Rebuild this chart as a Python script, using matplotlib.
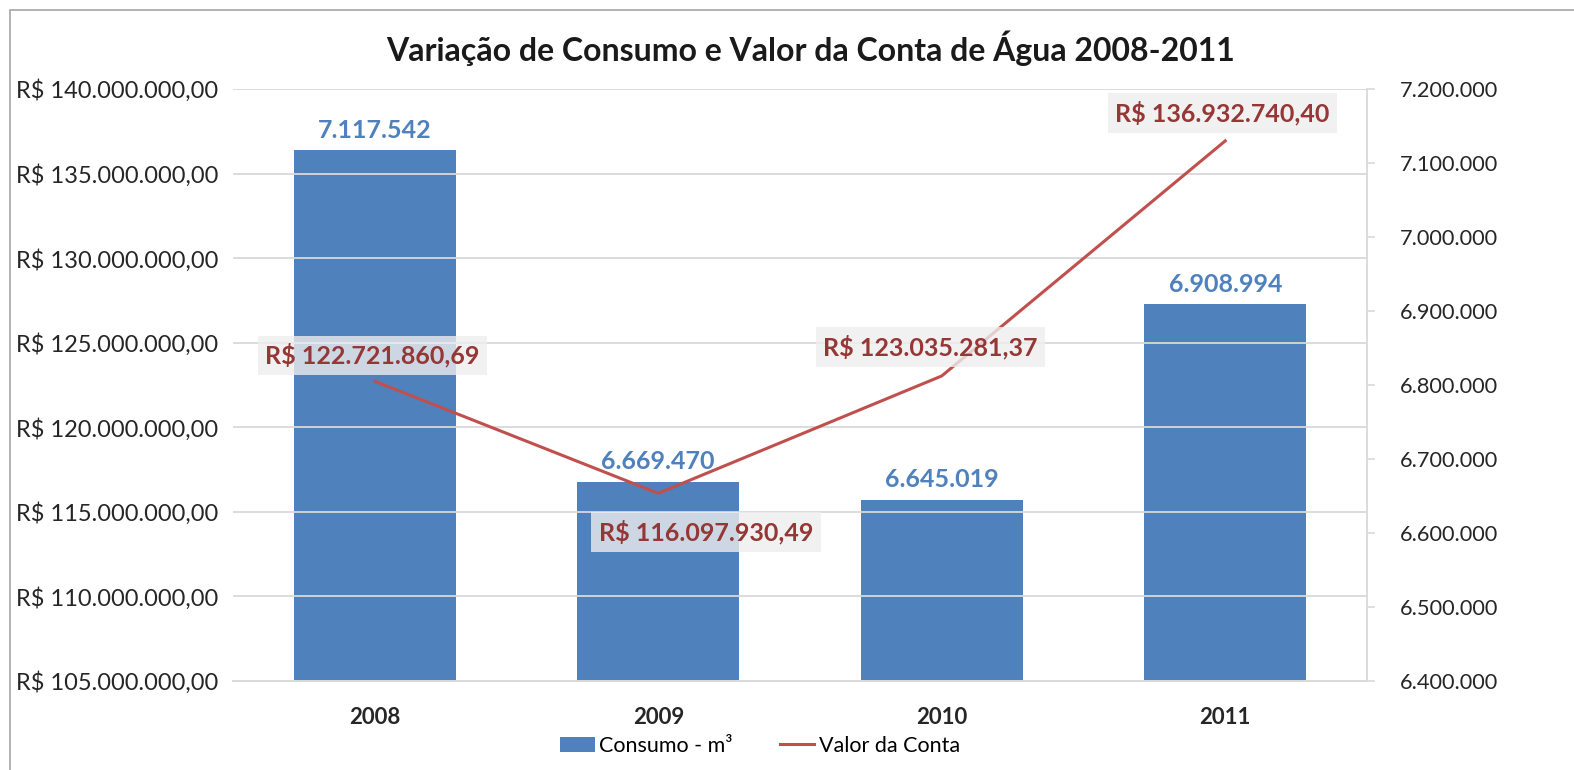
import matplotlib.pyplot as plt
from matplotlib.patches import Patch, Rectangle
from matplotlib.lines import Line2D
from matplotlib.ticker import FuncFormatter, MultipleLocator

anos = ["2008", "2009", "2010", "2011"]
consumo = [7117542, 6669470, 6645019, 6908994]
valor_conta = [122721860.69, 116097930.49, 123035281.37, 136932740.40]

BAR_COLOR = "#4f81bd"
LINE_COLOR = "#c0504d"
LABEL_RED = "#953735"
GRID = "#d9d9d9"


def br_num(v, decimals=0):
    s = f"{v:,.{decimals}f}"
    return s.replace(",", "X").replace(".", ",").replace("X", ".")


def main() -> None:
    plt.rcParams["font.family"] = ["Lato", "DejaVu Sans"]
    fig = plt.figure(figsize=(15.74, 7.70), dpi=100)
    fig.add_artist(Rectangle((10 / 1574, -0.05), 1.2, 1 - 10 / 770 + 0.05,
                             transform=fig.transFigure, fill=False,
                             edgecolor="#a6a6a6", linewidth=1.2))

    ax = fig.add_axes([233 / 1574, 1 - 681 / 770, (1367 - 233) / 1574, (681 - 89) / 770])
    ax2 = ax.twinx()
    x = list(range(len(anos)))

    # bars on the secondary (right) axis
    ax2.bar(x, consumo, width=0.57, color=BAR_COLOR, zorder=2)
    ax2.set_ylim(6400000, 7200000)
    ax2.yaxis.set_major_locator(MultipleLocator(100000))
    ax2.yaxis.set_major_formatter(FuncFormatter(lambda v, p: br_num(v)))
    for xi, c in zip(x, consumo):
        ax2.annotate(br_num(c), (xi, c), xytext=(0, 6), textcoords="offset points",
                     ha="center", va="bottom", fontsize=18, fontweight="bold",
                     color=BAR_COLOR)

    # line on the primary (left) axis, drawn above the bars
    ax.set_zorder(ax2.get_zorder() + 1)
    ax.patch.set_visible(False)
    ax.plot(x, valor_conta, color=LINE_COLOR, linewidth=2.2, zorder=3)
    ax.set_ylim(105000000, 140000000)
    ax.yaxis.set_major_locator(MultipleLocator(5000000))
    ax.yaxis.set_major_formatter(FuncFormatter(lambda v, p: "R$ " + br_num(v, 2)))
    offsets = [(-1.5, 18.5), (34.5, -28), (-8, 21), (-2, 20)]
    for xi, v, off in zip(x, valor_conta, offsets):
        ax.annotate("R$ " + br_num(v, 2), (xi, v), xytext=off, textcoords="offset points",
                    ha="center", va="center", fontsize=18, fontweight="bold",
                    color=LABEL_RED, zorder=5,
                    bbox=dict(boxstyle="square,pad=0.3", facecolor="#eeeeee",
                              edgecolor="none", alpha=0.8))

    ax.set_xlim(-0.5, len(anos) - 0.5)
    ax.set_xticks(x)
    ax.set_xticklabels(anos, fontsize=16, fontweight="bold")
    ax.grid(axis="y", color=GRID, linewidth=1.3, zorder=0)
    ax.set_axisbelow(True)

    for a in (ax, ax2):
        for s in ("top", "left", "right"):
            a.spines[s].set_visible(False)
        a.spines["bottom"].set_color(GRID)
        a.spines["bottom"].set_linewidth(1.3)
    ax2.spines["right"].set_visible(True)
    ax2.spines["right"].set_color(GRID)
    ax2.spines["right"].set_linewidth(1.3)

    ax.tick_params(axis="y", length=0, pad=10.5, labelsize=17, labelcolor="#262626")
    ax.tick_params(axis="x", length=0, pad=19, labelcolor="#262626")
    ax2.tick_params(axis="y", length=6, width=1.2, color=GRID, pad=18,
                    labelsize=15.7, labelcolor="#262626")

    fig.text(811 / 1574, 1 - 48 / 770, "Variação de Consumo e Valor da Conta de Água 2008-2011",
             ha="center", va="center", fontsize=23, fontweight="bold", color="#1a1a1a")

    handles = [Patch(facecolor=BAR_COLOR, edgecolor="none"),
               Line2D([0], [0], color=LINE_COLOR, linewidth=2.2)]
    fig.legend(handles, ["Consumo - m³", "Valor da Conta"], loc="center",
               bbox_to_anchor=(760 / 1574, 1 - 746 / 770), ncol=2, frameon=False,
               fontsize=15.5, handlelength=1.6, handletextpad=0.2, columnspacing=2.2)

    fig.savefig("out.png", dpi=100)
    plt.close(fig)


if __name__ == "__main__":
    main()
